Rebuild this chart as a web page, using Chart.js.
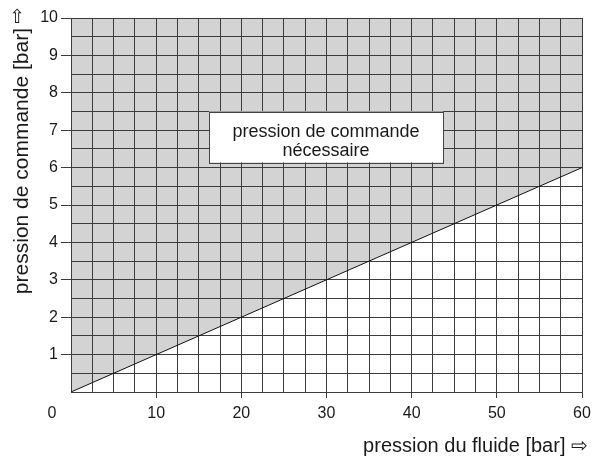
<!DOCTYPE html>
<html>
<head>
<meta charset="utf-8">
<script src="https://cdn.jsdelivr.net/npm/chart.js@4/dist/chart.umd.min.js"></script>
<style>
  html, body { margin: 0; padding: 0; background: #fff; }
  #wrap { width: 593px; height: 459px; }
</style>
</head>
<body>
<div id="wrap"><canvas id="chart" width="593" height="459"></canvas></div>
<script>
// données du diagramme
const fluidPressure = [0, 60];        // pression du fluide [bar]
const controlPressure = [0, 6];       // pression de commande nécessaire [bar]
const xTickLabels = ['', '10', '20', '30', '40', '50', '60'];
const yTickLabels = ['', '1', '2', '3', '4', '5', '6', '7', '8', '9', '10'];
const boxLines = ['pression de commande', 'nécessaire'];
const xTitle = 'pression du fluide [bar] ⇨';
const yTitle = 'pression de commande [bar]';

const FONT = '"Liberation Sans", Arial, sans-serif';
const GRID = '#3c3c3c';
const TEXT = '#1a1a1a';

// boîte de texte, "0", titres des axes et flèche
const extras = {
    id: 'extras',
    afterDatasetsDraw(chart) {
        const ctx = chart.ctx;
        const x = chart.scales.x, y = chart.scales.y;
        const x1 = x.getPixelForValue(16.2), x2 = x.getPixelForValue(43.7);
        const y1 = y.getPixelForValue(7.5), y2 = y.getPixelForValue(6.14);
        ctx.save();
        ctx.fillStyle = '#fff';
        ctx.fillRect(x1, y1, x2 - x1, y2 - y1);
        ctx.strokeStyle = '#444';
        ctx.lineWidth = 1;
        ctx.strokeRect(Math.round(x1) + 0.5, Math.round(y1) + 0.5, Math.round(x2 - x1), Math.round(y2 - y1));
        ctx.fillStyle = TEXT;
        ctx.font = '18px ' + FONT;
        ctx.textAlign = 'center';
        ctx.textBaseline = 'middle';
        const cx = (x1 + x2) / 2;
        ctx.fillText(boxLines[0], cx, y1 + 21);
        ctx.fillText(boxLines[1], cx, y1 + 40);
        // "0" sous le coin
        ctx.font = '16px ' + FONT;
        ctx.fillText('0', x.left - 19, y.bottom + 22);
        // titre x
        ctx.font = '20px ' + FONT;
        ctx.textAlign = 'right';
        ctx.textBaseline = 'alphabetic';
        ctx.fillText(xTitle, 588, 452);
        // titre y
        ctx.save();
        ctx.translate(28, 28);
        ctx.rotate(-Math.PI / 2);
        ctx.font = '21px ' + FONT;
        ctx.fillText(yTitle, 0, 0);
        ctx.restore();
        // flèche de l'axe y
        ctx.font = '19px "DejaVu Sans", sans-serif';
        ctx.textAlign = 'center';
        ctx.textBaseline = 'middle';
        ctx.fillText('⇧', 17, y.top);
        ctx.restore();
    }
};

new Chart(document.getElementById('chart'), {
    type: 'line',
    data: {
        datasets: [{
            data: fluidPressure.map((v, i) => ({ x: v, y: controlPressure[i] })),
            borderColor: '#111',
            borderWidth: 1,
            pointRadius: 0,
            fill: 'end',
            backgroundColor: '#d3d3d3'
        }]
    },
    options: {
        responsive: false,
        animation: false,
        devicePixelRatio: 1,
        layout: { padding: { left: 0, right: 11, top: 18, bottom: 0 } },
        plugins: {
            legend: { display: false },
            tooltip: { enabled: false },
            filler: { drawTime: 'beforeDraw' }
        },
        scales: {
            x: {
                type: 'linear',
                min: 0, max: 60,
                afterFit: s => { s.height = 67; s.paddingLeft = 0; s.paddingRight = 0; },
                ticks: {
                    stepSize: 2.5,
                    autoSkip: false,
                    maxRotation: 0,
                    color: TEXT,
                    font: { family: FONT, size: 16 },
                    padding: 6,
                    callback: v => (v % 10 === 0 ? xTickLabels[v / 10] : '')
                },
                grid: {
                    color: GRID,
                    lineWidth: 1,
                    tickLength: 6,
                    tickColor: c => (c.tick && c.tick.value % 10 === 0 && c.tick.value > 0 ? GRID : 'rgba(0,0,0,0)')
                },
                border: { color: GRID }
            },
            y: {
                type: 'linear',
                min: 0, max: 10,
                afterFit: s => { s.width = 71; s.paddingTop = 0; s.paddingBottom = 0; },
                ticks: {
                    stepSize: 0.5,
                    autoSkip: false,
                    color: TEXT,
                    font: { family: FONT, size: 16 },
                    padding: 3,
                    callback: v => (Number.isInteger(v) ? yTickLabels[v] : '')
                },
                grid: {
                    color: GRID,
                    lineWidth: 1,
                    tickLength: 10,
                    tickColor: c => (c.tick && Number.isInteger(c.tick.value) && c.tick.value > 0 ? GRID : 'rgba(0,0,0,0)')
                },
                border: { color: GRID }
            }
        }
    },
    plugins: [extras]
});
</script>
</body>
</html>
